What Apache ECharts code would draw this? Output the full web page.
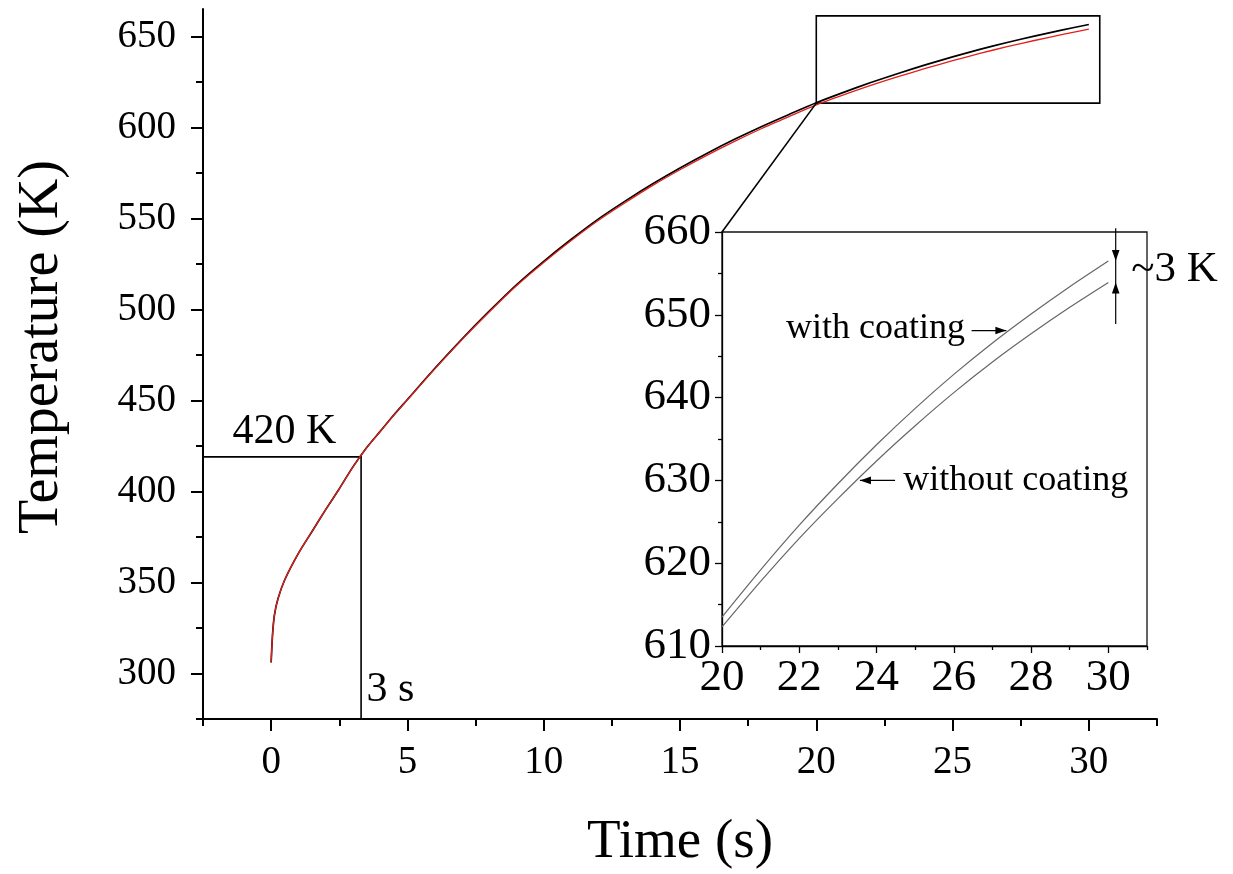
<!DOCTYPE html>
<html><head><meta charset="utf-8">
<script src="https://cdn.jsdelivr.net/npm/echarts@6/dist/echarts.min.js"></script>
<style>html,body{margin:0;padding:0;background:#fff}#c{width:1233px;height:874px}</style>
</head><body><div id="c"></div>
<script>
// ---- data ----
const time = [0, 0.05, 0.12, 0.25, 0.5, 1, 1.5, 2, 2.5, 3, 3.5, 4, 4.5, 5,
  6, 7, 8, 9, 10, 11, 12, 13, 14, 15, 16, 17, 18, 19, 20, 21, 22, 23, 24, 25, 26, 27, 28, 29, 30];
const withCoating = [306, 321, 332, 341, 351.5, 366, 378, 390, 401.5, 413.5, 424, 433, 442, 450.5,
  467.5, 483.7, 499, 513.5, 526.4, 538.4, 549.6, 559.6, 569, 577.7, 585.8, 593.4, 600.5, 607.1,
  613.5, 619.2, 624.6, 629.6, 634.3, 638.7, 642.8, 646.6, 650.1, 653.4, 656.5];
const withoutCoating = [306, 321, 332, 341, 351.5, 366, 378, 390, 401.4, 413.4, 423.9, 432.9, 441.8, 450.3,
  467.2, 483.4, 498.6, 513.0, 525.8, 537.7, 548.8, 558.7, 568.1, 576.7, 584.75, 592.3, 599.35, 605.9,
  612.3, 617.8, 623.0, 627.8, 632.35, 636.6, 640.6, 644.3, 647.7, 650.9, 653.9];
const seriesNames = ['with coating', 'without coating'];

const mainXTicks = [0, 5, 10, 15, 20, 25, 30];
const mainXMinorTicks = [-2.5, 2.5, 7.5, 12.5, 17.5, 22.5, 27.5, 32.5];
const mainYTicks = [300, 350, 400, 450, 500, 550, 600, 650];
const mainYMinorTicks = [275, 325, 375, 425, 475, 525, 575, 625];
const insetXTicks = [20, 22, 24, 26, 28, 30];
const insetXMinorTicks = [21, 23, 25, 27, 29, 31];
const insetYTicks = [610, 620, 630, 640, 650, 660];
const insetYMinorTicks = [615, 625, 635, 645, 655];

const xTitle = 'Time (s)';
const yTitle = 'Temperature (K)';

// annotation anchors (data coordinates)
const box3s = [[-2.5, 275], [3.3, 419]];
const zoomBox = [[20, 613.3], [30.4, 661.2]];
const label420 = { text: '420 K', at: [0.49, 432.6] };
const label3s = { text: '3 s', at: [3.5, 291] };
const labelWith = { text: 'with coating', at: [26.29, 648.3] };
const labelWithout = { text: 'without coating', at: [24.69, 630] };
const label3K = { text: '~3 K', at: [30.59, 655.5] };
const arrowWith = [[26.46, 648.1], [27.36, 648.1]];
const arrowWithout = [[24.48, 630], [23.57, 630]];
const dimX = 30.19;
const dimLevels = [660.45, 656.5, 653.9, 648.9];

// ---- chart ----
const FONT = "'Liberation Serif','Times New Roman',serif";
const chart = echarts.init(document.getElementById('c'), null, { renderer: 'canvas' });

function axis(o) {
  return {
    type: 'value', gridIndex: o.grid, min: o.min, max: o.max, position: o.pos,
    splitLine: { show: false },
    axisLine: { show: o.line, onZero: false, lineStyle: { color: '#000', width: o.lw } },
    axisTick: { show: true, inside: false, length: o.tl, customValues: o.ticks,
      lineStyle: { color: '#000', width: o.lw } },
    axisLabel: o.labels ? { show: true, customValues: o.labels, margin: o.margin, color: '#000',
      fontFamily: FONT, fontSize: o.fs } : { show: false },
    name: o.name || '', nameLocation: 'middle', nameGap: o.nameGap || 0,
    nameTextStyle: { fontFamily: FONT, fontSize: 55, color: '#000' },
    z: o.z || 2
  };
}

const zip = (xs, ys) => xs.map((x, i) => [x, ys[i]]);
const insetZip = (xs, ys) => zip(xs, ys).filter(p => p[0] >= 20);

const option = {
  backgroundColor: '#fff',
  animation: false,
  grid: [
    { left: 203, right: 76, top: 9, bottom: 155, outerBoundsMode: 'none', containLabel: false },
    { left: 722, right: 86, top: 232, bottom: 228, outerBoundsMode: 'none', containLabel: false,
      show: true, borderColor: '#111', borderWidth: 1.3, backgroundColor: '#fff', z: 3 }
  ],
  xAxis: [
    axis({ grid: 0, min: -2.5, max: 32.5, pos: 'bottom', line: true, lw: 2, tl: 12,
      ticks: mainXTicks, labels: mainXTicks, margin: 24, fs: 39, name: xTitle, nameGap: 96 }),
    axis({ grid: 0, min: -2.5, max: 32.5, pos: 'bottom', line: false, lw: 2, tl: 7, ticks: mainXMinorTicks }),
    axis({ grid: 1, min: 20, max: 31, pos: 'bottom', line: true, lw: 1.3, tl: 7,
      ticks: insetXTicks, labels: insetXTicks, margin: 10, fs: 45, z: 4 }),
    axis({ grid: 1, min: 20, max: 31, pos: 'bottom', line: false, lw: 1.3, tl: 4, ticks: insetXMinorTicks, z: 4 })
  ],
  yAxis: [
    axis({ grid: 0, min: 275, max: 665, pos: 'left', line: true, lw: 2, tl: 12,
      ticks: mainYTicks, labels: mainYTicks, margin: 27, fs: 39 }),
    axis({ grid: 0, min: 275, max: 665, pos: 'left', line: false, lw: 2, tl: 7, ticks: mainYMinorTicks }),
    axis({ grid: 1, min: 610, max: 660, pos: 'left', line: true, lw: 1.3, tl: 7,
      ticks: insetYTicks, labels: insetYTicks, margin: 11, fs: 45, z: 4 }),
    axis({ grid: 1, min: 610, max: 660, pos: 'left', line: false, lw: 1.3, tl: 4, ticks: insetYMinorTicks, z: 4 })
  ],
  series: [
    { name: seriesNames[0], type: 'line', xAxisIndex: 0, yAxisIndex: 0, data: zip(time, withCoating),
      showSymbol: false, smooth: 0.25, lineStyle: { color: '#000', width: 1.7 },
      markArea: { silent: true, itemStyle: { color: 'rgba(0,0,0,0)', borderColor: '#000', borderWidth: 1.6 },
        data: [[{ coord: box3s[0] }, { coord: box3s[1] }], [{ coord: zoomBox[0] }, { coord: zoomBox[1] }]] } },
    { name: seriesNames[1], type: 'line', xAxisIndex: 0, yAxisIndex: 0, data: zip(time, withoutCoating),
      showSymbol: false, smooth: 0.25, lineStyle: { color: '#e0201a', width: 1.3 } },
    { name: seriesNames[0] + ' (inset)', type: 'line', xAxisIndex: 2, yAxisIndex: 2, data: insetZip(time, withCoating),
      showSymbol: false, smooth: 0.25, clip: false, z: 5,
      lineStyle: { color: '#666', width: 1.2 } },
    { name: seriesNames[1] + ' (inset)', type: 'line', xAxisIndex: 2, yAxisIndex: 2, data: insetZip(time, withoutCoating),
      showSymbol: false, smooth: 0.25, clip: false, z: 5,
      lineStyle: { color: '#666', width: 1.2 } }
  ]
};
chart.setOption(option);

const P0 = p => chart.convertToPixel({ xAxisIndex: 0, yAxisIndex: 0 }, p);
const P1 = p => chart.convertToPixel({ xAxisIndex: 2, yAxisIndex: 2 }, p);
function txt(lbl, P, size, align) {
  const q = P(lbl.at);
  return { type: 'text', z: 100, style: { text: lbl.text, x: q[0], y: q[1], fill: '#000',
    font: size + 'px ' + FONT, align: align, verticalAlign: 'middle' } };
}
function seg(p, q, w) {
  return { type: 'line', z: 100, shape: { x1: p[0], y1: p[1], x2: q[0], y2: q[1] },
    style: { stroke: '#000', lineWidth: w || 1.2 } };
}
// filled arrow head with tip at q, pointing away from p
function head(p, q) {
  const dx = q[0] - p[0], dy = q[1] - p[1], L = Math.hypot(dx, dy) || 1;
  const ux = dx / L, uy = dy / L, len = 11, hw = 3.8;
  const bx = q[0] - ux * len, by = q[1] - uy * len;
  return { type: 'polygon', z: 101, shape: { points: [[q[0], q[1]], [bx - uy * hw, by + ux * hw], [bx + uy * hw, by - ux * hw]] },
    style: { fill: '#000' } };
}
const a = P0(zoomBox[0]);
const b = P1([20, 660]);
const aw0 = P1(arrowWith[0]), aw1 = P1(arrowWith[1]);
const an0 = P1(arrowWithout[0]), an1 = P1(arrowWithout[1]);
const d0 = P1([dimX, dimLevels[0]]), d1 = P1([dimX, dimLevels[1]]),
      d2 = P1([dimX, dimLevels[2]]), d3 = P1([dimX, dimLevels[3]]);
// y-axis title, centred beside the main y axis
const yTop = P0([-2.5, 665])[1], yBot = P0([-2.5, 275])[1];
chart.setOption({
  graphic: [
    seg(a, b, 1.6),
    seg(aw0, aw1), head(aw0, aw1),
    seg(an0, an1), head(an0, an1),
    seg(d0, d3), head(d0, d1), head(d3, d2),
    txt(label420, P0, 42, 'center'),
    txt(label3s, P0, 42, 'left'),
    txt(labelWith, P1, 36, 'right'),
    txt(labelWithout, P1, 36, 'left'),
    txt(label3K, P1, 43, 'left'),
    { type: 'text', z: 100, x: 42, y: yTop + (yBot - yTop) * 0.476, rotation: Math.PI / 2,
      style: { text: yTitle, x: 0, y: 0, fill: '#000', font: '56px ' + FONT, align: 'center', verticalAlign: 'middle' } }
  ]
});
</script>
</body></html>
